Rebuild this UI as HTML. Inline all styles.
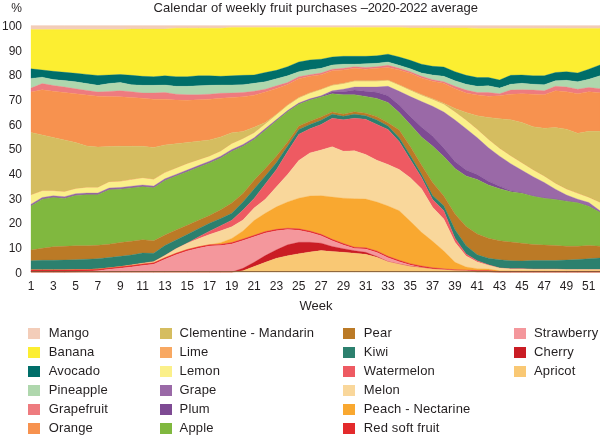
<!DOCTYPE html>
<html><head><meta charset="utf-8"><title>Calendar of weekly fruit purchases</title>
<style>
html,body{margin:0;padding:0;background:#fff}
body{width:600px;height:435px;position:relative;overflow:hidden;font-family:"Liberation Sans",sans-serif;color:#231f20;font-size:13px}
svg{position:absolute;left:0;top:0}
.t{position:absolute;left:153.5px;top:0.2px;white-space:nowrap;font-size:13px;line-height:15px;letter-spacing:0.03px}
.pc{position:absolute;left:0;width:22px;text-align:right;top:0.5px;font-size:12px;line-height:15px}
.yl{position:absolute;left:0;width:22px;text-align:right;font-size:12px;line-height:16px;height:16px}
.xl{position:absolute;top:278px;width:30px;text-align:center;font-size:12px;line-height:16px}
.wk{position:absolute;left:286px;width:60px;text-align:center;top:297.7px;font-size:13px;line-height:16px}
.sq{position:absolute;width:12px;height:11.2px}
.lt{position:absolute;white-space:nowrap;font-size:13px;line-height:16px;letter-spacing:0.15px}
</style></head><body>
<svg width="600" height="435" viewBox="0 0 600 435" shape-rendering="geometricPrecision">
<polygon fill="#f3cdb9" stroke="#f3cdb9" stroke-width="0.3" points="31.0,25.6 42.2,25.6 53.3,25.6 64.5,25.6 75.6,25.6 86.8,25.6 97.9,25.6 109.1,25.6 120.3,25.6 131.4,25.6 142.6,25.6 153.7,25.6 164.9,25.6 176.0,25.6 187.2,25.6 198.4,25.6 209.5,25.6 220.7,25.6 231.8,25.6 243.0,25.6 254.1,25.6 265.3,25.6 276.5,25.6 287.6,25.6 298.8,25.6 309.9,25.6 321.1,25.6 332.2,25.6 343.4,25.6 354.5,25.6 365.7,25.6 376.9,25.6 388.0,25.6 399.2,25.6 410.3,25.6 421.5,25.6 432.6,25.6 443.8,25.6 455.0,25.6 466.1,25.6 477.3,25.6 488.4,25.6 499.6,25.6 510.7,25.6 521.9,25.6 533.1,25.6 544.2,25.6 555.4,25.6 566.5,25.6 577.7,25.6 588.8,25.6 600.0,25.6 600.0,28.4 588.8,28.4 577.7,28.4 566.5,28.4 555.4,28.4 544.2,28.4 533.1,28.4 521.9,28.4 510.7,28.4 499.6,28.4 488.4,28.4 477.3,28.4 466.1,27.9 455.0,27.9 443.8,27.9 432.6,27.9 421.5,27.9 410.3,27.9 399.2,27.5 388.0,27.5 376.9,27.5 365.7,27.5 354.5,27.5 343.4,27.5 332.2,27.5 321.1,27.5 309.9,27.5 298.8,27.5 287.6,27.5 276.5,27.5 265.3,27.5 254.1,27.5 243.0,27.5 231.8,27.5 220.7,28.2 209.5,28.2 198.4,28.2 187.2,28.2 176.0,28.2 164.9,29.1 153.7,29.1 142.6,29.1 131.4,29.1 120.3,29.6 109.1,29.6 97.9,29.6 86.8,29.6 75.6,29.6 64.5,29.6 53.3,29.6 42.2,29.6 31.0,29.6"/>
<polygon fill="#fcee31" stroke="#fcee31" stroke-width="0.3" points="31.0,29.6 42.2,29.6 53.3,29.6 64.5,29.6 75.6,29.6 86.8,29.6 97.9,29.6 109.1,29.6 120.3,29.6 131.4,29.1 142.6,29.1 153.7,29.1 164.9,29.1 176.0,28.2 187.2,28.2 198.4,28.2 209.5,28.2 220.7,28.2 231.8,27.5 243.0,27.5 254.1,27.5 265.3,27.5 276.5,27.5 287.6,27.5 298.8,27.5 309.9,27.5 321.1,27.5 332.2,27.5 343.4,27.5 354.5,27.5 365.7,27.5 376.9,27.5 388.0,27.5 399.2,27.5 410.3,27.9 421.5,27.9 432.6,27.9 443.8,27.9 455.0,27.9 466.1,27.9 477.3,28.4 488.4,28.4 499.6,28.4 510.7,28.4 521.9,28.4 533.1,28.4 544.2,28.4 555.4,28.4 566.5,28.4 577.7,28.4 588.8,28.4 600.0,28.4 600.0,65.0 588.8,69.2 577.7,73.0 566.5,71.7 555.4,72.5 544.2,75.8 533.1,75.8 521.9,75.0 510.7,75.3 499.6,80.0 488.4,77.5 477.3,77.5 466.1,75.3 455.0,71.7 443.8,67.0 432.6,66.3 421.5,64.2 410.3,60.3 399.2,57.0 388.0,54.2 376.9,55.8 365.7,56.3 354.5,56.3 343.4,56.3 332.2,57.0 321.1,59.2 309.9,60.0 298.8,62.0 287.6,66.7 276.5,70.3 265.3,72.5 254.1,75.0 243.0,75.3 231.8,75.8 220.7,76.3 209.5,75.8 198.4,75.8 187.2,76.7 176.0,76.7 164.9,75.8 153.7,76.7 142.6,76.3 131.4,75.3 120.3,74.5 109.1,75.0 97.9,75.5 86.8,74.4 75.6,73.3 64.5,72.3 53.3,71.3 42.2,70.0 31.0,68.8"/>
<polygon fill="#006e69" stroke="#006e69" stroke-width="0.3" points="31.0,68.8 42.2,70.0 53.3,71.3 64.5,72.3 75.6,73.3 86.8,74.4 97.9,75.5 109.1,75.0 120.3,74.5 131.4,75.3 142.6,76.3 153.7,76.7 164.9,75.8 176.0,76.7 187.2,76.7 198.4,75.8 209.5,75.8 220.7,76.3 231.8,75.8 243.0,75.3 254.1,75.0 265.3,72.5 276.5,70.3 287.6,66.7 298.8,62.0 309.9,60.0 321.1,59.2 332.2,57.0 343.4,56.3 354.5,56.3 365.7,56.3 376.9,55.8 388.0,54.2 399.2,57.0 410.3,60.3 421.5,64.2 432.6,66.3 443.8,67.0 455.0,71.7 466.1,75.3 477.3,77.5 488.4,77.5 499.6,80.0 510.7,75.3 521.9,75.0 533.1,75.8 544.2,75.8 555.4,72.5 566.5,71.7 577.7,73.0 588.8,69.2 600.0,65.0 600.0,75.8 588.8,79.2 577.7,81.7 566.5,80.3 555.4,80.8 544.2,84.7 533.1,84.2 521.9,83.3 510.7,84.2 499.6,88.0 488.4,85.8 477.3,86.3 466.1,84.2 455.0,80.8 443.8,76.3 432.6,75.0 421.5,73.0 410.3,68.7 399.2,65.3 388.0,62.0 376.9,63.3 365.7,63.7 354.5,64.2 343.4,64.2 332.2,65.0 321.1,68.3 309.9,69.7 298.8,71.7 287.6,75.8 276.5,78.7 265.3,81.7 254.1,83.3 243.0,84.7 231.8,85.0 220.7,85.0 209.5,85.3 198.4,85.8 187.2,86.3 176.0,86.3 164.9,85.0 153.7,85.3 142.6,85.3 131.4,84.7 120.3,82.5 109.1,83.5 97.9,85.3 86.8,83.5 75.6,81.8 64.5,80.6 53.3,79.6 42.2,77.2 31.0,78.4"/>
<polygon fill="#afd7ad" stroke="#afd7ad" stroke-width="0.3" points="31.0,78.4 42.2,77.2 53.3,79.6 64.5,80.6 75.6,81.8 86.8,83.5 97.9,85.3 109.1,83.5 120.3,82.5 131.4,84.7 142.6,85.3 153.7,85.3 164.9,85.0 176.0,86.3 187.2,86.3 198.4,85.8 209.5,85.3 220.7,85.0 231.8,85.0 243.0,84.7 254.1,83.3 265.3,81.7 276.5,78.7 287.6,75.8 298.8,71.7 309.9,69.7 321.1,68.3 332.2,65.0 343.4,64.2 354.5,64.2 365.7,63.7 376.9,63.3 388.0,62.0 399.2,65.3 410.3,68.7 421.5,73.0 432.6,75.0 443.8,76.3 455.0,80.8 466.1,84.2 477.3,86.3 488.4,85.8 499.6,88.0 510.7,84.2 521.9,83.3 533.1,84.2 544.2,84.7 555.4,80.8 566.5,80.3 577.7,81.7 588.8,79.2 600.0,75.8 600.0,88.7 588.8,87.5 577.7,89.2 566.5,87.0 555.4,86.3 544.2,90.8 533.1,90.0 521.9,89.7 510.7,90.0 499.6,93.7 488.4,92.5 477.3,92.5 466.1,90.0 455.0,86.3 443.8,81.7 432.6,79.7 421.5,76.3 410.3,71.7 399.2,68.3 388.0,65.3 376.9,66.7 365.7,67.5 354.5,66.7 343.4,68.3 332.2,69.2 321.1,73.0 309.9,74.7 298.8,76.7 287.6,82.6 276.5,85.8 265.3,89.2 254.1,91.3 243.0,92.5 231.8,93.0 220.7,93.3 209.5,94.2 198.4,94.7 187.2,94.7 176.0,94.2 164.9,92.5 153.7,93.0 142.6,93.0 131.4,91.7 120.3,90.8 109.1,91.4 97.9,92.0 86.8,90.4 75.6,88.8 64.5,87.1 53.3,85.5 42.2,83.6 31.0,88.1"/>
<polygon fill="#ee7b7f" stroke="#ee7b7f" stroke-width="0.3" points="31.0,88.1 42.2,83.6 53.3,85.5 64.5,87.1 75.6,88.8 86.8,90.4 97.9,92.0 109.1,91.4 120.3,90.8 131.4,91.7 142.6,93.0 153.7,93.0 164.9,92.5 176.0,94.2 187.2,94.7 198.4,94.7 209.5,94.2 220.7,93.3 231.8,93.0 243.0,92.5 254.1,91.3 265.3,89.2 276.5,85.8 287.6,82.6 298.8,76.7 309.9,74.7 321.1,73.0 332.2,69.2 343.4,68.3 354.5,66.7 365.7,67.5 376.9,66.7 388.0,65.3 399.2,68.3 410.3,71.7 421.5,76.3 432.6,79.7 443.8,81.7 455.0,86.3 466.1,90.0 477.3,92.5 488.4,92.5 499.6,93.7 510.7,90.0 521.9,89.7 533.1,90.0 544.2,90.8 555.4,86.3 566.5,87.0 577.7,89.2 588.8,87.5 600.0,88.7 600.0,92.7 588.8,91.7 577.7,93.7 566.5,91.7 555.4,90.8 544.2,94.7 533.1,94.2 521.9,93.7 510.7,94.2 499.6,95.8 488.4,96.3 477.3,95.0 466.1,93.0 455.0,88.7 443.8,83.3 432.6,81.3 421.5,78.0 410.3,73.3 399.2,70.0 388.0,67.5 376.9,68.3 365.7,69.2 354.5,68.3 343.4,70.0 332.2,70.8 321.1,74.7 309.9,76.3 298.8,78.7 287.6,84.6 276.5,88.4 265.3,92.0 254.1,95.2 243.0,96.7 231.8,97.5 220.7,98.3 209.5,99.2 198.4,99.7 187.2,100.3 176.0,100.0 164.9,99.2 153.7,99.2 142.6,98.3 131.4,97.5 120.3,96.8 109.1,96.5 97.9,96.2 86.8,95.0 75.6,93.8 64.5,92.5 53.3,91.3 42.2,89.8 31.0,92.0"/>
<polygon fill="#f7924f" stroke="#f7924f" stroke-width="0.3" points="31.0,92.0 42.2,89.8 53.3,91.3 64.5,92.5 75.6,93.8 86.8,95.0 97.9,96.2 109.1,96.5 120.3,96.8 131.4,97.5 142.6,98.3 153.7,99.2 164.9,99.2 176.0,100.0 187.2,100.3 198.4,99.7 209.5,99.2 220.7,98.3 231.8,97.5 243.0,96.7 254.1,95.2 265.3,92.0 276.5,88.4 287.6,84.6 298.8,78.7 309.9,76.3 321.1,74.7 332.2,70.8 343.4,70.0 354.5,68.3 365.7,69.2 376.9,68.3 388.0,67.5 399.2,70.0 410.3,73.3 421.5,78.0 432.6,81.3 443.8,83.3 455.0,88.7 466.1,93.0 477.3,95.0 488.4,96.3 499.6,95.8 510.7,94.2 521.9,93.7 533.1,94.2 544.2,94.7 555.4,90.8 566.5,91.7 577.7,93.7 588.8,91.7 600.0,92.7 600.0,131.3 588.8,131.3 577.7,133.3 566.5,129.2 555.4,127.5 544.2,128.3 533.1,126.7 521.9,122.5 510.7,119.7 499.6,118.7 488.4,117.5 477.3,115.8 466.1,112.5 455.0,108.5 443.8,103.2 432.6,98.7 421.5,94.5 410.3,89.8 399.2,84.8 388.0,80.0 376.9,80.8 365.7,80.8 354.5,80.8 343.4,83.3 332.2,85.0 321.1,89.2 309.9,92.8 298.8,97.5 287.6,105.0 276.5,114.2 265.3,122.5 254.1,127.3 243.0,131.5 231.8,132.8 220.7,136.9 209.5,140.0 198.4,141.2 187.2,142.5 176.0,143.8 164.9,145.0 153.7,147.4 142.6,146.3 131.4,146.2 120.3,146.2 109.1,146.6 97.9,147.0 86.8,146.0 75.6,142.5 64.5,140.0 53.3,137.5 42.2,135.0 31.0,132.5"/>
<polygon fill="#d5bd60" stroke="#d5bd60" stroke-width="0.3" points="31.0,132.5 42.2,135.0 53.3,137.5 64.5,140.0 75.6,142.5 86.8,146.0 97.9,147.0 109.1,146.6 120.3,146.2 131.4,146.2 142.6,146.3 153.7,147.4 164.9,145.0 176.0,143.8 187.2,142.5 198.4,141.2 209.5,140.0 220.7,136.9 231.8,132.8 243.0,131.5 254.1,127.3 265.3,122.5 276.5,114.2 287.6,105.0 298.8,97.5 309.9,92.8 321.1,89.2 332.2,85.0 343.4,83.3 354.5,80.8 365.7,80.8 376.9,80.8 388.0,80.0 399.2,84.8 410.3,89.8 421.5,94.5 432.6,98.7 443.8,103.2 455.0,108.5 466.1,112.5 477.3,115.8 488.4,117.5 499.6,118.7 510.7,119.7 521.9,122.5 533.1,126.7 544.2,128.3 555.4,127.5 566.5,129.2 577.7,133.3 588.8,131.3 600.0,131.3 600.0,202.5 588.8,197.5 577.7,193.3 566.5,189.2 555.4,183.5 544.2,176.3 533.1,170.0 521.9,163.0 510.7,156.0 499.6,148.5 488.4,139.5 477.3,129.5 466.1,120.2 455.0,112.0 443.8,104.3 432.6,99.5 421.5,95.2 410.3,90.4 399.2,85.3 388.0,80.5 376.9,81.3 365.7,81.3 354.5,81.3 343.4,83.8 332.2,85.5 321.1,89.7 309.9,93.3 298.8,98.0 287.6,105.5 276.5,114.7 265.3,124.0 254.1,132.8 243.0,138.7 231.8,143.7 220.7,151.2 209.5,156.2 198.4,160.0 187.2,163.8 176.0,168.2 164.9,172.6 153.7,179.3 142.6,178.0 131.4,179.6 120.3,181.3 109.1,182.0 97.9,187.5 86.8,187.5 75.6,188.7 64.5,191.7 53.3,190.8 42.2,190.8 31.0,195.0"/>
<polygon fill="#f8a862" stroke="#f8a862" stroke-width="0.3" points="31.0,195.0 42.2,190.8 53.3,190.8 64.5,191.7 75.6,188.7 86.8,187.5 97.9,187.5 109.1,182.0 120.3,181.3 131.4,179.6 142.6,178.0 153.7,179.3 164.9,172.6 176.0,168.2 187.2,163.8 198.4,160.0 209.5,156.2 220.7,151.2 231.8,143.7 243.0,138.7 254.1,132.8 265.3,124.0 276.5,114.7 287.6,105.5 298.8,98.0 309.9,93.3 321.1,89.7 332.2,85.5 343.4,83.8 354.5,81.3 365.7,81.3 376.9,81.3 388.0,80.5 399.2,85.3 410.3,90.4 421.5,95.2 432.6,99.5 443.8,104.3 455.0,112.0 466.1,120.2 477.3,129.5 488.4,139.5 499.6,148.5 510.7,156.0 521.9,163.0 533.1,170.0 544.2,176.3 555.4,183.5 566.5,189.2 577.7,193.3 588.8,197.5 600.0,202.5 600.0,202.8 588.8,197.8 577.7,193.7 566.5,189.5 555.4,183.8 544.2,176.6 533.1,170.3 521.9,163.3 510.7,156.3 499.6,148.8 488.4,139.8 477.3,129.8 466.1,120.5 455.0,112.3 443.8,104.6 432.6,99.8 421.5,95.4 410.3,90.6 399.2,85.5 388.0,80.7 376.9,81.5 365.7,81.5 354.5,81.5 343.4,84.0 332.2,85.7 321.1,89.8 309.9,93.5 298.8,98.2 287.6,105.7 276.5,114.9 265.3,124.2 254.1,133.2 243.0,139.0 231.8,144.0 220.7,151.5 209.5,156.6 198.4,160.3 187.2,164.1 176.0,168.5 164.9,172.9 153.7,179.7 142.6,178.3 131.4,179.9 120.3,181.7 109.1,182.3 97.9,187.8 86.8,187.8 75.6,189.0 64.5,192.0 53.3,191.2 42.2,191.2 31.0,195.3"/>
<polygon fill="#fbf08a" stroke="#fbf08a" stroke-width="0.3" points="31.0,195.3 42.2,191.2 53.3,191.2 64.5,192.0 75.6,189.0 86.8,187.8 97.9,187.8 109.1,182.3 120.3,181.7 131.4,179.9 142.6,178.3 153.7,179.7 164.9,172.9 176.0,168.5 187.2,164.1 198.4,160.3 209.5,156.6 220.7,151.5 231.8,144.0 243.0,139.0 254.1,133.2 265.3,124.2 276.5,114.9 287.6,105.7 298.8,98.2 309.9,93.5 321.1,89.8 332.2,85.7 343.4,84.0 354.5,81.5 365.7,81.5 376.9,81.5 388.0,80.7 399.2,85.5 410.3,90.6 421.5,95.4 432.6,99.8 443.8,104.6 455.0,112.3 466.1,120.5 477.3,129.8 488.4,139.8 499.6,148.8 510.7,156.3 521.9,163.3 533.1,170.3 544.2,176.6 555.4,183.8 566.5,189.5 577.7,193.7 588.8,197.8 600.0,202.8 600.0,210.8 588.8,202.5 577.7,199.2 566.5,195.0 555.4,189.2 544.2,182.5 533.1,176.7 521.9,170.3 510.7,163.7 499.6,156.2 488.4,147.8 477.3,137.8 466.1,128.7 455.0,120.0 443.8,112.0 432.6,106.3 421.5,101.5 410.3,96.6 399.2,91.3 388.0,86.3 376.9,87.0 365.7,87.0 354.5,87.0 343.4,89.2 332.2,90.8 321.1,95.8 309.9,98.8 298.8,103.0 287.6,110.5 276.5,119.5 265.3,128.6 254.1,137.8 243.0,144.5 231.8,149.5 220.7,156.2 209.5,161.2 198.4,165.6 187.2,170.0 176.0,174.4 164.9,178.8 153.7,186.1 142.6,185.0 131.4,186.2 120.3,187.5 109.1,188.0 97.9,193.0 86.8,193.0 75.6,193.7 64.5,196.7 53.3,195.8 42.2,197.5 31.0,204.2"/>
<polygon fill="#9a69a7" stroke="#9a69a7" stroke-width="0.3" points="31.0,204.2 42.2,197.5 53.3,195.8 64.5,196.7 75.6,193.7 86.8,193.0 97.9,193.0 109.1,188.0 120.3,187.5 131.4,186.2 142.6,185.0 153.7,186.1 164.9,178.8 176.0,174.4 187.2,170.0 198.4,165.6 209.5,161.2 220.7,156.2 231.8,149.5 243.0,144.5 254.1,137.8 265.3,128.6 276.5,119.5 287.6,110.5 298.8,103.0 309.9,98.8 321.1,95.8 332.2,90.8 343.4,89.2 354.5,87.0 365.7,87.0 376.9,87.0 388.0,86.3 399.2,91.3 410.3,96.6 421.5,101.5 432.6,106.3 443.8,112.0 455.0,120.0 466.1,128.7 477.3,137.8 488.4,147.8 499.6,156.2 510.7,163.7 521.9,170.3 533.1,176.7 544.2,182.5 555.4,189.2 566.5,195.0 577.7,199.2 588.8,202.5 600.0,210.8 600.0,212.0 588.8,205.8 577.7,202.5 566.5,200.8 555.4,199.2 544.2,198.0 533.1,195.8 521.9,192.5 510.7,190.8 499.6,186.2 488.4,181.2 477.3,174.5 466.1,170.0 455.0,161.5 443.8,148.0 432.6,136.0 421.5,127.0 410.3,116.5 399.2,105.0 388.0,95.7 376.9,92.2 365.7,91.3 354.5,90.0 343.4,91.7 332.2,91.7 321.1,96.5 309.9,99.6 298.8,103.8 287.6,111.3 276.5,120.3 265.3,129.9 254.1,139.1 243.0,145.8 231.8,150.8 220.7,157.5 209.5,162.5 198.4,166.9 187.2,171.3 176.0,175.7 164.9,180.1 153.7,187.4 142.6,186.3 131.4,187.5 120.3,188.8 109.1,189.3 97.9,194.3 86.8,194.3 75.6,195.0 64.5,198.0 53.3,197.1 42.2,198.8 31.0,205.5"/>
<polygon fill="#7e4a93" stroke="#7e4a93" stroke-width="0.3" points="31.0,205.5 42.2,198.8 53.3,197.1 64.5,198.0 75.6,195.0 86.8,194.3 97.9,194.3 109.1,189.3 120.3,188.8 131.4,187.5 142.6,186.3 153.7,187.4 164.9,180.1 176.0,175.7 187.2,171.3 198.4,166.9 209.5,162.5 220.7,157.5 231.8,150.8 243.0,145.8 254.1,139.1 265.3,129.9 276.5,120.3 287.6,111.3 298.8,103.8 309.9,99.6 321.1,96.5 332.2,91.7 343.4,91.7 354.5,90.0 365.7,91.3 376.9,92.2 388.0,95.7 399.2,105.0 410.3,116.5 421.5,127.0 432.6,136.0 443.8,148.0 455.0,161.5 466.1,170.0 477.3,174.5 488.4,181.2 499.6,186.2 510.7,190.8 521.9,192.5 533.1,195.8 544.2,198.0 555.4,199.2 566.5,200.8 577.7,202.5 588.8,205.8 600.0,212.0 600.0,212.3 588.8,206.2 577.7,202.8 566.5,201.2 555.4,199.5 544.2,198.3 533.1,196.3 521.9,193.2 510.7,191.7 499.6,188.7 488.4,185.0 477.3,179.5 466.1,176.0 455.0,168.5 443.8,156.5 432.6,146.0 421.5,137.0 410.3,124.5 399.2,112.5 388.0,102.6 376.9,98.4 365.7,96.4 354.5,94.7 343.4,94.7 332.2,93.7 321.1,97.0 309.9,100.0 298.8,104.2 287.6,111.7 276.5,120.7 265.3,130.3 254.1,139.5 243.0,146.2 231.8,151.2 220.7,157.9 209.5,162.9 198.4,167.3 187.2,171.7 176.0,176.1 164.9,180.5 153.7,187.8 142.6,186.7 131.4,187.9 120.3,189.2 109.1,189.7 97.9,194.7 86.8,194.7 75.6,195.4 64.5,198.4 53.3,197.5 42.2,199.2 31.0,205.9"/>
<polygon fill="#80b83f" stroke="#80b83f" stroke-width="0.3" points="31.0,205.9 42.2,199.2 53.3,197.5 64.5,198.4 75.6,195.4 86.8,194.7 97.9,194.7 109.1,189.7 120.3,189.2 131.4,187.9 142.6,186.7 153.7,187.8 164.9,180.5 176.0,176.1 187.2,171.7 198.4,167.3 209.5,162.9 220.7,157.9 231.8,151.2 243.0,146.2 254.1,139.5 265.3,130.3 276.5,120.7 287.6,111.7 298.8,104.2 309.9,100.0 321.1,97.0 332.2,93.7 343.4,94.7 354.5,94.7 365.7,96.4 376.9,98.4 388.0,102.6 399.2,112.5 410.3,124.5 421.5,137.0 432.6,146.0 443.8,156.5 455.0,168.5 466.1,176.0 477.3,179.5 488.4,185.0 499.6,188.7 510.7,191.7 521.9,193.2 533.1,196.3 544.2,198.3 555.4,199.5 566.5,201.2 577.7,202.8 588.8,206.2 600.0,212.3 600.0,246.2 588.8,245.5 577.7,246.2 566.5,246.2 555.4,245.5 544.2,245.0 533.1,244.5 521.9,243.2 510.7,242.0 499.6,240.7 488.4,238.2 477.3,234.0 466.1,226.5 455.0,214.0 443.8,196.0 432.6,182.5 421.5,165.0 410.3,146.5 399.2,130.0 388.0,122.8 376.9,116.7 365.7,113.3 354.5,111.7 343.4,114.2 332.2,112.0 321.1,117.0 309.9,121.2 298.8,126.0 287.6,141.9 276.5,156.0 265.3,168.5 254.1,180.3 243.0,193.5 231.8,203.0 220.7,209.8 209.5,215.5 198.4,220.3 187.2,225.3 176.0,230.0 164.9,235.0 153.7,240.8 142.6,239.7 131.4,241.3 120.3,242.5 109.1,244.2 97.9,245.3 86.8,245.8 75.6,245.8 64.5,246.3 53.3,246.7 42.2,248.3 31.0,250.0"/>
<polygon fill="#bb7a26" stroke="#bb7a26" stroke-width="0.3" points="31.0,250.0 42.2,248.3 53.3,246.7 64.5,246.3 75.6,245.8 86.8,245.8 97.9,245.3 109.1,244.2 120.3,242.5 131.4,241.3 142.6,239.7 153.7,240.8 164.9,235.0 176.0,230.0 187.2,225.3 198.4,220.3 209.5,215.5 220.7,209.8 231.8,203.0 243.0,193.5 254.1,180.3 265.3,168.5 276.5,156.0 287.6,141.9 298.8,126.0 309.9,121.2 321.1,117.0 332.2,112.0 343.4,114.2 354.5,111.7 365.7,113.3 376.9,116.7 388.0,122.8 399.2,130.0 410.3,146.5 421.5,165.0 432.6,182.5 443.8,196.0 455.0,214.0 466.1,226.5 477.3,234.0 488.4,238.2 499.6,240.7 510.7,242.0 521.9,243.2 533.1,244.5 544.2,245.0 555.4,245.5 566.5,246.2 577.7,246.2 588.8,245.5 600.0,246.2 600.0,258.0 588.8,258.7 577.7,259.5 566.5,260.0 555.4,260.5 544.2,260.5 533.1,260.5 521.9,261.0 510.7,260.7 499.6,259.8 488.4,258.2 477.3,254.8 466.1,245.7 455.0,229.8 443.8,205.7 432.6,195.5 421.5,174.3 410.3,155.5 399.2,137.7 388.0,126.0 376.9,120.0 365.7,115.8 354.5,114.2 343.4,116.3 332.2,114.2 321.1,120.2 309.9,124.4 298.8,129.5 287.6,146.0 276.5,162.5 265.3,176.0 254.1,189.0 243.0,202.0 231.8,213.2 220.7,218.5 209.5,223.2 198.4,228.7 187.2,234.5 176.0,240.0 164.9,245.5 153.7,253.3 142.6,253.0 131.4,255.0 120.3,256.3 109.1,257.5 97.9,258.7 86.8,259.2 75.6,259.7 64.5,260.0 53.3,260.3 42.2,260.3 31.0,260.8"/>
<polygon fill="#2c806e" stroke="#2c806e" stroke-width="0.3" points="31.0,260.8 42.2,260.3 53.3,260.3 64.5,260.0 75.6,259.7 86.8,259.2 97.9,258.7 109.1,257.5 120.3,256.3 131.4,255.0 142.6,253.0 153.7,253.3 164.9,245.5 176.0,240.0 187.2,234.5 198.4,228.7 209.5,223.2 220.7,218.5 231.8,213.2 243.0,202.0 254.1,189.0 265.3,176.0 276.5,162.5 287.6,146.0 298.8,129.5 309.9,124.4 321.1,120.2 332.2,114.2 343.4,116.3 354.5,114.2 365.7,115.8 376.9,120.0 388.0,126.0 399.2,137.7 410.3,155.5 421.5,174.3 432.6,195.5 443.8,205.7 455.0,229.8 466.1,245.7 477.3,254.8 488.4,258.2 499.6,259.8 510.7,260.7 521.9,261.0 533.1,260.5 544.2,260.5 555.4,260.5 566.5,260.0 577.7,259.5 588.8,258.7 600.0,258.0 600.0,269.5 588.8,269.5 577.7,269.5 566.5,269.5 555.4,269.2 544.2,269.2 533.1,269.2 521.9,268.8 510.7,268.8 499.6,268.0 488.4,264.8 477.3,260.7 466.1,254.0 455.0,238.2 443.8,210.7 432.6,199.5 421.5,177.5 410.3,159.5 399.2,141.5 388.0,129.5 376.9,124.5 365.7,119.2 354.5,118.3 343.4,119.7 332.2,118.3 321.1,124.5 309.9,128.8 298.8,134.3 287.6,151.6 276.5,169.5 265.3,184.0 254.1,198.5 243.0,210.0 231.8,220.2 220.7,225.8 209.5,231.2 198.4,237.0 187.2,243.2 176.0,248.8 164.9,255.5 153.7,261.7 142.6,263.3 131.4,265.0 120.3,266.7 109.1,268.0 97.9,269.2 86.8,269.7 75.6,269.7 64.5,270.0 53.3,270.0 42.2,270.0 31.0,270.0"/>
<polygon fill="#ee5a62" stroke="#ee5a62" stroke-width="0.3" points="31.0,270.0 42.2,270.0 53.3,270.0 64.5,270.0 75.6,269.7 86.8,269.7 97.9,269.2 109.1,268.0 120.3,266.7 131.4,265.0 142.6,263.3 153.7,261.7 164.9,255.5 176.0,248.8 187.2,243.2 198.4,237.0 209.5,231.2 220.7,225.8 231.8,220.2 243.0,210.0 254.1,198.5 265.3,184.0 276.5,169.5 287.6,151.6 298.8,134.3 309.9,128.8 321.1,124.5 332.2,118.3 343.4,119.7 354.5,118.3 365.7,119.2 376.9,124.5 388.0,129.5 399.2,141.5 410.3,159.5 421.5,177.5 432.6,199.5 443.8,210.7 455.0,238.2 466.1,254.0 477.3,260.7 488.4,264.8 499.6,268.0 510.7,268.8 521.9,268.8 533.1,269.2 544.2,269.2 555.4,269.2 566.5,269.5 577.7,269.5 588.8,269.5 600.0,269.5 600.0,269.6 588.8,269.6 577.7,269.6 566.5,269.6 555.4,269.3 544.2,269.3 533.1,269.3 521.9,268.9 510.7,268.9 499.6,268.1 488.4,265.3 477.3,262.0 466.1,256.0 455.0,242.3 443.8,219.0 432.6,207.3 421.5,188.7 410.3,177.8 399.2,169.5 388.0,164.5 376.9,160.3 365.7,154.5 354.5,150.7 343.4,151.2 332.2,146.7 321.1,150.0 309.9,152.9 298.8,160.5 287.6,174.5 276.5,186.8 265.3,199.3 254.1,208.0 243.0,220.0 231.8,226.8 220.7,230.8 209.5,234.5 198.4,238.7 187.2,243.2 176.0,248.8 164.9,255.5 153.7,261.7 142.6,263.3 131.4,265.0 120.3,266.7 109.1,268.0 97.9,269.2 86.8,269.7 75.6,269.7 64.5,270.0 53.3,270.0 42.2,270.0 31.0,270.0"/>
<polygon fill="#f9d79b" stroke="#f9d79b" stroke-width="0.3" points="31.0,270.0 42.2,270.0 53.3,270.0 64.5,270.0 75.6,269.7 86.8,269.7 97.9,269.2 109.1,268.0 120.3,266.7 131.4,265.0 142.6,263.3 153.7,261.7 164.9,255.5 176.0,248.8 187.2,243.2 198.4,238.7 209.5,234.5 220.7,230.8 231.8,226.8 243.0,220.0 254.1,208.0 265.3,199.3 276.5,186.8 287.6,174.5 298.8,160.5 309.9,152.9 321.1,150.0 332.2,146.7 343.4,151.2 354.5,150.7 365.7,154.5 376.9,160.3 388.0,164.5 399.2,169.5 410.3,177.8 421.5,188.7 432.6,207.3 443.8,219.0 455.0,242.3 466.1,256.0 477.3,262.0 488.4,265.3 499.6,268.1 510.7,268.9 521.9,268.9 533.1,269.3 544.2,269.3 555.4,269.3 566.5,269.6 577.7,269.6 588.8,269.6 600.0,269.6 600.0,270.8 588.8,270.8 577.7,270.8 566.5,270.8 555.4,270.8 544.2,270.8 533.1,270.8 521.9,270.8 510.7,270.8 499.6,270.8 488.4,269.0 477.3,268.7 466.1,267.0 455.0,262.3 443.8,251.0 432.6,241.3 421.5,232.3 410.3,221.3 399.2,210.7 388.0,206.0 376.9,202.0 365.7,199.0 354.5,198.7 343.4,198.2 332.2,197.0 321.1,195.7 309.9,196.0 298.8,198.2 287.6,202.0 276.5,206.8 265.3,213.3 254.1,220.5 243.0,231.0 231.8,238.4 220.7,242.7 209.5,244.7 198.4,246.8 187.2,249.5 176.0,253.3 164.9,257.8 153.7,262.8 142.6,264.0 131.4,265.5 120.3,266.8 109.1,268.0 97.9,269.2 86.8,269.7 75.6,269.7 64.5,270.0 53.3,270.0 42.2,270.0 31.0,270.0"/>
<polygon fill="#f9a830" stroke="#f9a830" stroke-width="0.3" points="31.0,270.0 42.2,270.0 53.3,270.0 64.5,270.0 75.6,269.7 86.8,269.7 97.9,269.2 109.1,268.0 120.3,266.8 131.4,265.5 142.6,264.0 153.7,262.8 164.9,257.8 176.0,253.3 187.2,249.5 198.4,246.8 209.5,244.7 220.7,242.7 231.8,238.4 243.0,231.0 254.1,220.5 265.3,213.3 276.5,206.8 287.6,202.0 298.8,198.2 309.9,196.0 321.1,195.7 332.2,197.0 343.4,198.2 354.5,198.7 365.7,199.0 376.9,202.0 388.0,206.0 399.2,210.7 410.3,221.3 421.5,232.3 432.6,241.3 443.8,251.0 455.0,262.3 466.1,267.0 477.3,268.7 488.4,269.0 499.6,270.8 510.7,270.8 521.9,270.8 533.1,270.8 544.2,270.8 555.4,270.8 566.5,270.8 577.7,270.8 588.8,270.8 600.0,270.8 600.0,271.5 588.8,271.5 577.7,271.5 566.5,271.5 555.4,271.5 544.2,271.5 533.1,271.5 521.9,271.5 510.7,271.5 499.6,271.5 488.4,270.5 477.3,270.5 466.1,270.0 455.0,269.7 443.8,268.8 432.6,267.7 421.5,266.0 410.3,263.7 399.2,260.3 388.0,256.3 376.9,251.0 365.7,247.7 354.5,247.2 343.4,243.5 332.2,239.3 321.1,234.3 309.9,231.0 298.8,228.8 287.6,228.2 276.5,229.3 265.3,231.5 254.1,235.3 243.0,239.0 231.8,242.5 220.7,244.2 209.5,244.7 198.4,246.8 187.2,249.5 176.0,253.3 164.9,257.8 153.7,262.8 142.6,264.0 131.4,265.5 120.3,266.8 109.1,268.0 97.9,269.2 86.8,269.7 75.6,269.7 64.5,270.0 53.3,270.0 42.2,270.0 31.0,270.0"/>
<polygon fill="#e32a2c" stroke="#e32a2c" stroke-width="0.3" points="31.0,270.0 42.2,270.0 53.3,270.0 64.5,270.0 75.6,269.7 86.8,269.7 97.9,269.2 109.1,268.0 120.3,266.8 131.4,265.5 142.6,264.0 153.7,262.8 164.9,257.8 176.0,253.3 187.2,249.5 198.4,246.8 209.5,244.7 220.7,244.2 231.8,242.5 243.0,239.0 254.1,235.3 265.3,231.5 276.5,229.3 287.6,228.2 298.8,228.8 309.9,231.0 321.1,234.3 332.2,239.3 343.4,243.5 354.5,247.2 365.7,247.7 376.9,251.0 388.0,256.3 399.2,260.3 410.3,263.7 421.5,266.0 432.6,267.7 443.8,268.8 455.0,269.7 466.1,270.0 477.3,270.5 488.4,270.5 499.6,271.5 510.7,271.5 521.9,271.5 533.1,271.5 544.2,271.5 555.4,271.5 566.5,271.5 577.7,271.5 588.8,271.5 600.0,271.5 600.0,272.0 588.8,272.0 577.7,272.0 566.5,272.0 555.4,272.0 544.2,272.0 533.1,272.0 521.9,272.0 510.7,272.0 499.6,272.0 488.4,271.5 477.3,271.5 466.1,270.5 455.0,270.2 443.8,269.5 432.6,269.1 421.5,267.4 410.3,265.1 399.2,261.7 388.0,257.7 376.9,252.4 365.7,249.1 354.5,248.6 343.4,244.9 332.2,240.7 321.1,235.7 309.9,232.4 298.8,230.2 287.6,229.6 276.5,230.7 265.3,232.9 254.1,236.7 243.0,240.4 231.8,243.9 220.7,245.6 209.5,246.1 198.4,248.2 187.2,250.9 176.0,254.7 164.9,259.2 153.7,264.2 142.6,265.4 131.4,266.9 120.3,268.2 109.1,269.3 97.9,270.7 86.8,271.3 75.6,271.7 64.5,272.0 53.3,272.0 42.2,272.0 31.0,272.0"/>
<polygon fill="#f4979c" stroke="#f4979c" stroke-width="0.3" points="31.0,272.0 42.2,272.0 53.3,272.0 64.5,272.0 75.6,271.7 86.8,271.3 97.9,270.7 109.1,269.3 120.3,268.2 131.4,266.9 142.6,265.4 153.7,264.2 164.9,259.2 176.0,254.7 187.2,250.9 198.4,248.2 209.5,246.1 220.7,245.6 231.8,243.9 243.0,240.4 254.1,236.7 265.3,232.9 276.5,230.7 287.6,229.6 298.8,230.2 309.9,232.4 321.1,235.7 332.2,240.7 343.4,244.9 354.5,248.6 365.7,249.1 376.9,252.4 388.0,257.7 399.2,261.7 410.3,265.1 421.5,267.4 432.6,269.1 443.8,269.5 455.0,270.2 466.1,270.5 477.3,271.5 488.4,271.5 499.6,272.0 510.7,272.0 521.9,272.0 533.1,272.0 544.2,272.0 555.4,272.0 566.5,272.0 577.7,272.0 588.8,272.0 600.0,272.0 600.0,272.0 588.8,272.0 577.7,272.0 566.5,272.0 555.4,272.0 544.2,272.0 533.1,272.0 521.9,272.0 510.7,272.0 499.6,272.0 488.4,271.5 477.3,271.5 466.1,270.7 455.0,270.3 443.8,269.7 432.6,269.1 421.5,267.7 410.3,266.3 399.2,264.2 388.0,261.7 376.9,256.5 365.7,252.3 354.5,250.7 343.4,248.7 332.2,246.5 321.1,243.2 309.9,242.3 298.8,242.3 287.6,244.8 276.5,249.8 265.3,255.6 254.1,262.3 243.0,268.3 231.8,272.0 220.7,272.0 209.5,272.0 198.4,272.0 187.2,272.0 176.0,272.0 164.9,272.0 153.7,272.0 142.6,272.0 131.4,272.0 120.3,272.0 109.1,272.0 97.9,272.0 86.8,272.0 75.6,272.0 64.5,272.0 53.3,272.0 42.2,272.0 31.0,272.0"/>
<polygon fill="#ca1c24" stroke="#ca1c24" stroke-width="0.3" points="31.0,272.0 42.2,272.0 53.3,272.0 64.5,272.0 75.6,272.0 86.8,272.0 97.9,272.0 109.1,272.0 120.3,272.0 131.4,272.0 142.6,272.0 153.7,272.0 164.9,272.0 176.0,272.0 187.2,272.0 198.4,272.0 209.5,272.0 220.7,272.0 231.8,272.0 243.0,268.3 254.1,262.3 265.3,255.6 276.5,249.8 287.6,244.8 298.8,242.3 309.9,242.3 321.1,243.2 332.2,246.5 343.4,248.7 354.5,250.7 365.7,252.3 376.9,256.5 388.0,261.7 399.2,264.2 410.3,266.3 421.5,267.7 432.6,269.1 443.8,269.7 455.0,270.3 466.1,270.7 477.3,271.5 488.4,271.5 499.6,272.0 510.7,272.0 521.9,272.0 533.1,272.0 544.2,272.0 555.4,272.0 566.5,272.0 577.7,272.0 588.8,272.0 600.0,272.0 600.0,272.0 588.8,272.0 577.7,272.0 566.5,272.0 555.4,272.0 544.2,272.0 533.1,272.0 521.9,272.0 510.7,272.0 499.6,272.0 488.4,271.8 477.3,271.8 466.1,270.8 455.0,270.5 443.8,269.8 432.6,269.1 421.5,267.8 410.3,266.5 399.2,264.3 388.0,261.8 376.9,257.3 365.7,254.3 354.5,253.2 343.4,252.3 332.2,251.5 321.1,250.6 309.9,252.0 298.8,253.7 287.6,255.7 276.5,258.2 265.3,262.3 254.1,266.5 243.0,270.8 231.8,272.0 220.7,272.0 209.5,272.0 198.4,272.0 187.2,272.0 176.0,272.0 164.9,272.0 153.7,272.0 142.6,272.0 131.4,272.0 120.3,272.0 109.1,272.0 97.9,272.0 86.8,272.0 75.6,272.0 64.5,272.0 53.3,272.0 42.2,272.0 31.0,272.0"/>
<polygon fill="#f9c874" stroke="#f9c874" stroke-width="0.3" points="31.0,272.0 42.2,272.0 53.3,272.0 64.5,272.0 75.6,272.0 86.8,272.0 97.9,272.0 109.1,272.0 120.3,272.0 131.4,272.0 142.6,272.0 153.7,272.0 164.9,272.0 176.0,272.0 187.2,272.0 198.4,272.0 209.5,272.0 220.7,272.0 231.8,272.0 243.0,270.8 254.1,266.5 265.3,262.3 276.5,258.2 287.6,255.7 298.8,253.7 309.9,252.0 321.1,250.6 332.2,251.5 343.4,252.3 354.5,253.2 365.7,254.3 376.9,257.3 388.0,261.8 399.2,264.3 410.3,266.5 421.5,267.8 432.6,269.1 443.8,269.8 455.0,270.5 466.1,270.8 477.3,271.8 488.4,271.8 499.6,272.0 510.7,272.0 521.9,272.0 533.1,272.0 544.2,272.0 555.4,272.0 566.5,272.0 577.7,272.0 588.8,272.0 600.0,272.0 600.0,272.0 588.8,272.0 577.7,272.0 566.5,272.0 555.4,272.0 544.2,272.0 533.1,272.0 521.9,272.0 510.7,272.0 499.6,272.0 488.4,272.0 477.3,272.0 466.1,272.0 455.0,272.0 443.8,272.0 432.6,272.0 421.5,272.0 410.3,272.0 399.2,272.0 388.0,272.0 376.9,272.0 365.7,272.0 354.5,272.0 343.4,272.0 332.2,272.0 321.1,272.0 309.9,272.0 298.8,272.0 287.6,272.0 276.5,272.0 265.3,272.0 254.1,272.0 243.0,272.0 231.8,272.0 220.7,272.0 209.5,272.0 198.4,272.0 187.2,272.0 176.0,272.0 164.9,272.0 153.7,272.0 142.6,272.0 131.4,272.0 120.3,272.0 109.1,272.0 97.9,272.0 86.8,272.0 75.6,272.0 64.5,272.0 53.3,272.0 42.2,272.0 31.0,272.0"/>
<rect x="30.8" y="271" width="569.2" height="1.1" fill="#6e4a2c" opacity="0.75"/>
</svg>
<div class="t"><span id="ta" style="letter-spacing:0.12px">Calendar of weekly fruit purchases </span><span id="tb" style="letter-spacing:-0.3px">–2020-2022</span><span id="tc"> average</span></div>
<div class="pc">%</div>
<div class="yl" style="top:264.5px">0</div><div class="yl" style="top:239.9px">10</div><div class="yl" style="top:215.2px">20</div><div class="yl" style="top:190.6px">30</div><div class="yl" style="top:165.9px">40</div><div class="yl" style="top:141.3px">50</div><div class="yl" style="top:116.7px">60</div><div class="yl" style="top:92.0px">70</div><div class="yl" style="top:67.4px">80</div><div class="yl" style="top:42.7px">90</div><div class="yl" style="top:18.1px">100</div>
<div class="xl" style="left:16.0px">1</div><div class="xl" style="left:38.3px">3</div><div class="xl" style="left:60.6px">5</div><div class="xl" style="left:82.9px">7</div><div class="xl" style="left:105.3px">9</div><div class="xl" style="left:127.6px">11</div><div class="xl" style="left:149.9px">13</div><div class="xl" style="left:172.2px">15</div><div class="xl" style="left:194.5px">17</div><div class="xl" style="left:216.8px">19</div><div class="xl" style="left:239.1px">21</div><div class="xl" style="left:261.5px">23</div><div class="xl" style="left:283.8px">25</div><div class="xl" style="left:306.1px">27</div><div class="xl" style="left:328.4px">29</div><div class="xl" style="left:350.7px">31</div><div class="xl" style="left:373.0px">33</div><div class="xl" style="left:395.3px">35</div><div class="xl" style="left:417.6px">37</div><div class="xl" style="left:440.0px">39</div><div class="xl" style="left:462.3px">41</div><div class="xl" style="left:484.6px">43</div><div class="xl" style="left:506.9px">45</div><div class="xl" style="left:529.2px">47</div><div class="xl" style="left:551.5px">49</div><div class="xl" style="left:573.8px">51</div>
<div class="wk">Week</div>
<div class="sq" style="left:28.0px;top:327.7px;background:#f3cdb9"></div><div class="lt" style="left:48.7px;top:324.5px">Mango</div><div class="sq" style="left:28.0px;top:346.7px;background:#fcee31"></div><div class="lt" style="left:48.7px;top:343.5px">Banana</div><div class="sq" style="left:28.0px;top:365.7px;background:#006e69"></div><div class="lt" style="left:48.7px;top:362.5px">Avocado</div><div class="sq" style="left:28.0px;top:384.7px;background:#afd7ad"></div><div class="lt" style="left:48.7px;top:381.5px">Pineapple</div><div class="sq" style="left:28.0px;top:403.7px;background:#ee7b7f"></div><div class="lt" style="left:48.7px;top:400.5px">Grapefruit</div><div class="sq" style="left:28.0px;top:422.7px;background:#f7924f"></div><div class="lt" style="left:48.7px;top:419.5px">Orange</div><div class="sq" style="left:159.7px;top:327.7px;background:#d5bd60"></div><div class="lt" style="left:179.6px;top:324.5px">Clementine - Mandarin</div><div class="sq" style="left:159.7px;top:346.7px;background:#f8a862"></div><div class="lt" style="left:179.6px;top:343.5px">Lime</div><div class="sq" style="left:159.7px;top:365.7px;background:#fbf08a"></div><div class="lt" style="left:179.6px;top:362.5px">Lemon</div><div class="sq" style="left:159.7px;top:384.7px;background:#9a69a7"></div><div class="lt" style="left:179.6px;top:381.5px">Grape</div><div class="sq" style="left:159.7px;top:403.7px;background:#7e4a93"></div><div class="lt" style="left:179.6px;top:400.5px">Plum</div><div class="sq" style="left:159.7px;top:422.7px;background:#80b83f"></div><div class="lt" style="left:179.6px;top:419.5px">Apple</div><div class="sq" style="left:343.4px;top:327.7px;background:#bb7a26"></div><div class="lt" style="left:363.8px;top:324.5px">Pear</div><div class="sq" style="left:343.4px;top:346.7px;background:#2c806e"></div><div class="lt" style="left:363.8px;top:343.5px">Kiwi</div><div class="sq" style="left:343.4px;top:365.7px;background:#ee5a62"></div><div class="lt" style="left:363.8px;top:362.5px">Watermelon</div><div class="sq" style="left:343.4px;top:384.7px;background:#f9d79b"></div><div class="lt" style="left:363.8px;top:381.5px">Melon</div><div class="sq" style="left:343.4px;top:403.7px;background:#f9a830"></div><div class="lt" style="left:363.8px;top:400.5px">Peach - Nectarine</div><div class="sq" style="left:343.4px;top:422.7px;background:#e32a2c"></div><div class="lt" style="left:363.8px;top:419.5px">Red soft fruit</div><div class="sq" style="left:513.7px;top:327.7px;background:#f4979c"></div><div class="lt" style="left:534.0px;top:324.5px">Strawberry</div><div class="sq" style="left:513.7px;top:346.7px;background:#ca1c24"></div><div class="lt" style="left:534.0px;top:343.5px">Cherry</div><div class="sq" style="left:513.7px;top:365.7px;background:#f9c874"></div><div class="lt" style="left:534.0px;top:362.5px">Apricot</div>
</body></html>
